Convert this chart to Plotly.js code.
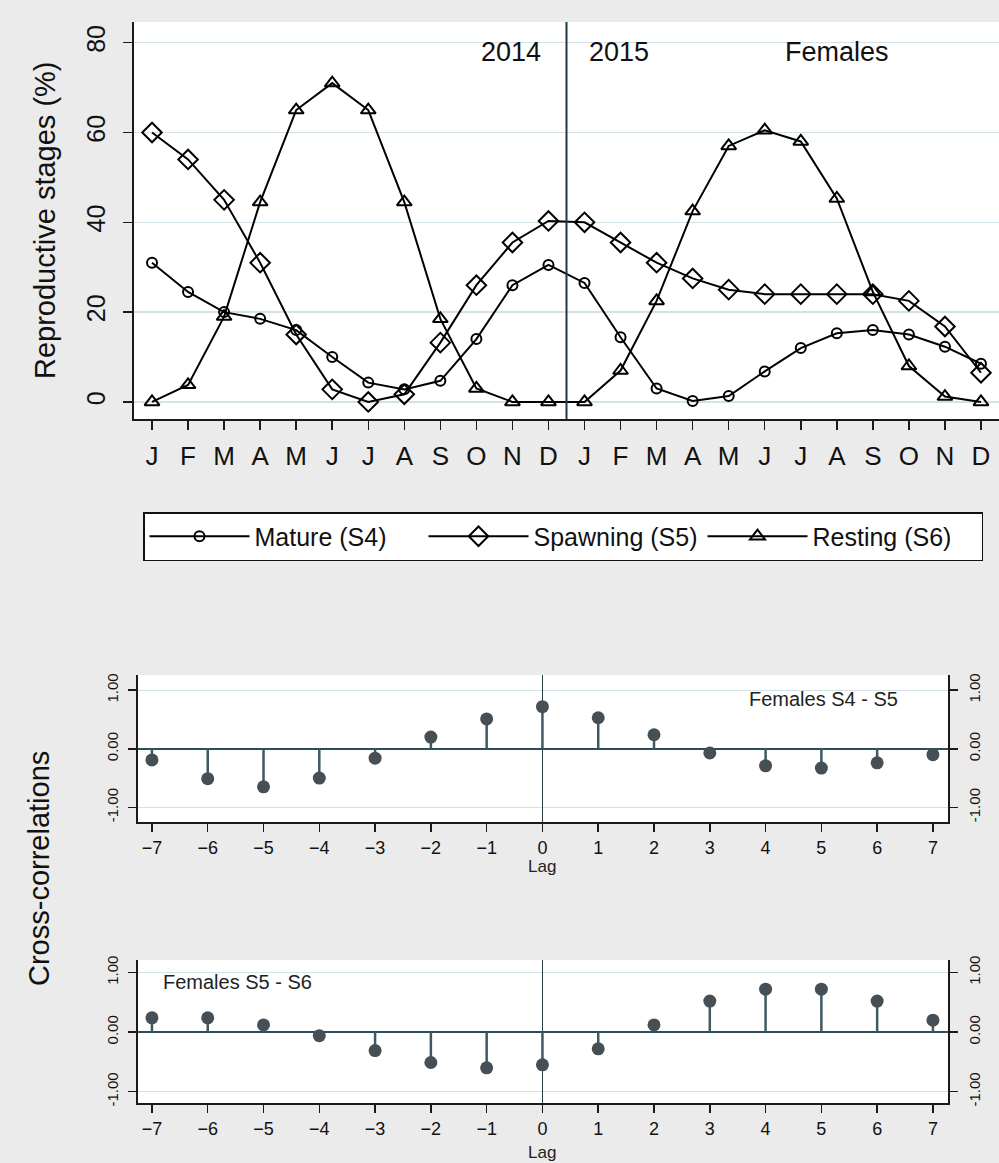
<!DOCTYPE html>
<html>
<head>
<meta charset="utf-8">
<script src="https://cdn.plot.ly/plotly-3.0.1.min.js"></script>
<style>html,body{margin:0;padding:0;background:#ebebeb;}#chart{width:999px;height:1163px;}</style>
</head>
<body>
<div id="chart"></div>
<script>
// ---- data ----
const monthLabels = ['J','F','M','A','M','J','J','A','S','O','N','D','J','F','M','A','M','J','J','A','S','O','N','D'];
const mature   = [31, 24.5, 20, 18.5, 16, 10, 4.3, 2.8, 4.7, 14, 26, 30.5, 26.5, 14.4, 3, 0.2, 1.3, 6.8, 12, 15.3, 16, 15, 12.3, 8.5];
const spawning = [60, 54, 45, 31, 15, 2.8, 0, 1.7, 13.2, 26, 35.5, 40.3, 40, 35.5, 31, 27.5, 25, 24, 24, 24, 24, 22.5, 16.8, 6.5];
const resting  = [0, 3.8, 19, 44.5, 65, 71, 65, 44.5, 18.5, 3, 0, 0, 0, 7, 22.5, 42.5, 57, 60.5, 58, 45.3, 24.5, 8, 1.2, 0];
const yearSplit = 11.5;
const lags = [-7,-6,-5,-4,-3,-2,-1,0,1,2,3,4,5,6,7];
const ccS4S5 = [-0.19,-0.51,-0.65,-0.50,-0.16,0.20,0.51,0.72,0.53,0.24,-0.07,-0.29,-0.33,-0.24,-0.10];
const ccS5S6 = [0.24,0.24,0.12,-0.06,-0.31,-0.51,-0.60,-0.55,-0.28,0.12,0.52,0.72,0.72,0.52,0.20];
const ccTickVals = [-1,0,1];
const ccTickText = ['-1.00','0.00','1.00'];

const W = 999, H = 1163;
const FONT = 'Liberation Sans, Arial, sans-serif';
const monthIdx = monthLabels.map((_, i) => i);

function stems(xs, vs) {
  const x = [], y = [];
  xs.forEach((l, i) => { x.push(l, l, null); y.push(0, vs[i], null); });
  return {x, y};
}
const px = v => v / W;
const py = v => 1 - v / H;

const lineStyle = {color: '#000', width: 2};
const traces = [
  {x: monthIdx, y: mature, name: 'Mature (S4)', type: 'scatter', mode: 'lines+markers',
   line: lineStyle, marker: {symbol: 'circle-open', size: 10, color: '#000', line: {width: 2, color: '#000'}},
   xaxis: 'x', yaxis: 'y'},
  {x: monthIdx, y: spawning, name: 'Spawning (S5)', type: 'scatter', mode: 'lines+markers',
   line: lineStyle, marker: {symbol: 'diamond-open', size: 15, color: '#000', line: {width: 2, color: '#000'}},
   xaxis: 'x', yaxis: 'y'},
  {x: monthIdx, y: resting, name: 'Resting (S6)', type: 'scatter', mode: 'lines+markers',
   line: lineStyle, marker: {symbol: 'triangle-up-open', size: 13, color: '#000', line: {width: 2, color: '#000'}},
   xaxis: 'x', yaxis: 'y'}
];
const stemColor = '#3d5961', dotColor = '#454f55';
[[ccS4S5, 'x2', 'y2'], [ccS5S6, 'x3', 'y3']].forEach(([vals, xa, ya]) => {
  const s = stems(lags, vals);
  traces.push({x: s.x, y: s.y, type: 'scatter', mode: 'lines', line: {color: stemColor, width: 2.5},
    xaxis: xa, yaxis: ya, showlegend: false, hoverinfo: 'skip'});
  traces.push({x: lags, y: vals, type: 'scatter', mode: 'markers', marker: {color: dotColor, size: 13},
    xaxis: xa, yaxis: ya, showlegend: false});
});
traces.push({x: [], y: [], xaxis: 'x2', yaxis: 'y4', showlegend: false, type: 'scatter'});
traces.push({x: [], y: [], xaxis: 'x3', yaxis: 'y5', showlegend: false, type: 'scatter'});

const axisLine = '#1a1a1a';
const gridC = '#d3e1e9';
const ccX = (dom, anchor) => ({
  domain: dom, anchor: anchor, range: [-7.25, 7.27], tickvals: lags, ticks: 'outside', ticklen: 8,
  tickwidth: 1.5, tickcolor: axisLine, showline: true, linecolor: axisLine, linewidth: 2,
  showgrid: false, zeroline: true, zerolinecolor: '#2a3f46', zerolinewidth: 1.5,
  tickfont: {family: FONT, size: 18, color: '#111'}, ticklabelstandoff: 0, fixedrange: true
});
const ccY = (dom, anchor, range, side, overlay) => {
  const o = {domain: dom, anchor: anchor, range: range, tickvals: ccTickVals, ticktext: ccTickText,
    tickangle: -90, ticks: 'outside', ticklen: 8, tickwidth: 1.5, tickcolor: axisLine,
    showline: true, linecolor: axisLine, linewidth: 2, showgrid: !overlay, gridcolor: gridC, gridwidth: 1,
    zeroline: !overlay, zerolinecolor: '#2a4f5a', zerolinewidth: 2.5,
    tickfont: {family: FONT, size: 15, color: '#111'}, ticklabelstandoff: 4, side: side, fixedrange: true};
  if (overlay) o.overlaying = overlay;
  return o;
};

const ccDomX = [px(138), px(948)];
const p1Dom = [py(822), py(675)];
const p2Dom = [py(1103), py(960)];
const p1Range = [-1.25, 1.26];
const p2Range = [-1.19, 1.21];

const ann = (text, x, y, size, extra) => Object.assign({text: text, xref: 'paper', yref: 'paper', x: x, y: y,
  xanchor: 'center', yanchor: 'middle', showarrow: false, font: {size: size, color: '#111'}}, extra || {});

const layout = {
  width: W, height: H,
  margin: {l: 0, r: 0, t: 0, b: 0},
  paper_bgcolor: '#ebebeb', plot_bgcolor: '#ffffff',
  font: {family: FONT, color: '#111'},
  showlegend: true,
  legend: {orientation: 'h', x: px(143), y: py(512), xanchor: 'left', yanchor: 'top',
    bgcolor: '#ffffff', bordercolor: '#111', borderwidth: 1.5,
    font: {family: FONT, size: 25, color: '#111'}, itemwidth: 100, entrywidth: 164, entrywidthmode: 'pixels',
    itemclick: false, itemdoubleclick: false},
  xaxis: {domain: [px(134), 1], anchor: 'y', range: [-0.5, 23.5], tickvals: monthIdx, ticktext: monthLabels,
    ticks: 'outside', ticklen: 9, tickwidth: 1.5, tickcolor: axisLine, showline: true, linecolor: axisLine,
    linewidth: 2, showgrid: false, zeroline: false, tickfont: {family: FONT, size: 26, color: '#111'},
    ticklabelstandoff: 4, fixedrange: true},
  yaxis: {domain: [py(419), py(22)], anchor: 'x', range: [-3.8, 84.6], tickvals: [0, 20, 40, 60, 80],
    tickangle: -90, ticks: 'outside', ticklen: 9, tickwidth: 1.5, tickcolor: axisLine, showline: true,
    linecolor: axisLine, linewidth: 2, showgrid: true, gridcolor: gridC, gridwidth: 1.5, zeroline: false,
    tickfont: {family: FONT, size: 25, color: '#111'}, ticklabelstandoff: 8, fixedrange: true},
  xaxis2: ccX(ccDomX, 'y2'),
  yaxis2: ccY(p1Dom, 'x2', p1Range, 'left', null),
  yaxis4: ccY(p1Dom, 'x2', p1Range, 'right', 'y2'),
  xaxis3: ccX(ccDomX, 'y3'),
  yaxis3: ccY(p2Dom, 'x3', p2Range, 'left', null),
  yaxis5: ccY(p2Dom, 'x3', p2Range, 'right', 'y3'),
  shapes: [
    {type: 'line', xref: 'x', yref: 'y domain', x0: yearSplit, x1: yearSplit, y0: 0, y1: 1,
     line: {color: '#1f3a44', width: 2}}
  ],
  annotations: [
    ann('2014', px(511), py(52), 27),
    ann('2015', px(619), py(52), 27),
    ann('Females', px(837), py(52), 27),
    ann('Reproductive stages (%)', px(45), py(220), 29, {textangle: -90}),
    ann('Cross-correlations', px(39), py(869), 29, {textangle: -90}),
    ann('Females S4 - S5', px(823), py(699), 20, {font: {size: 20, color: '#222'}}),
    ann('Females S5 - S6', px(237), py(982), 20, {font: {size: 20, color: '#222'}}),
    ann('Lag', 0, py(866), 17, {xref: 'x2', font: {size: 17, color: '#222'}}),
    ann('Lag', 0, py(1152), 17, {xref: 'x3', font: {size: 17, color: '#222'}})
  ]
};

Plotly.newPlot('chart', traces, layout, {staticPlot: true, displayModeBar: false});
</script>
</body>
</html>
